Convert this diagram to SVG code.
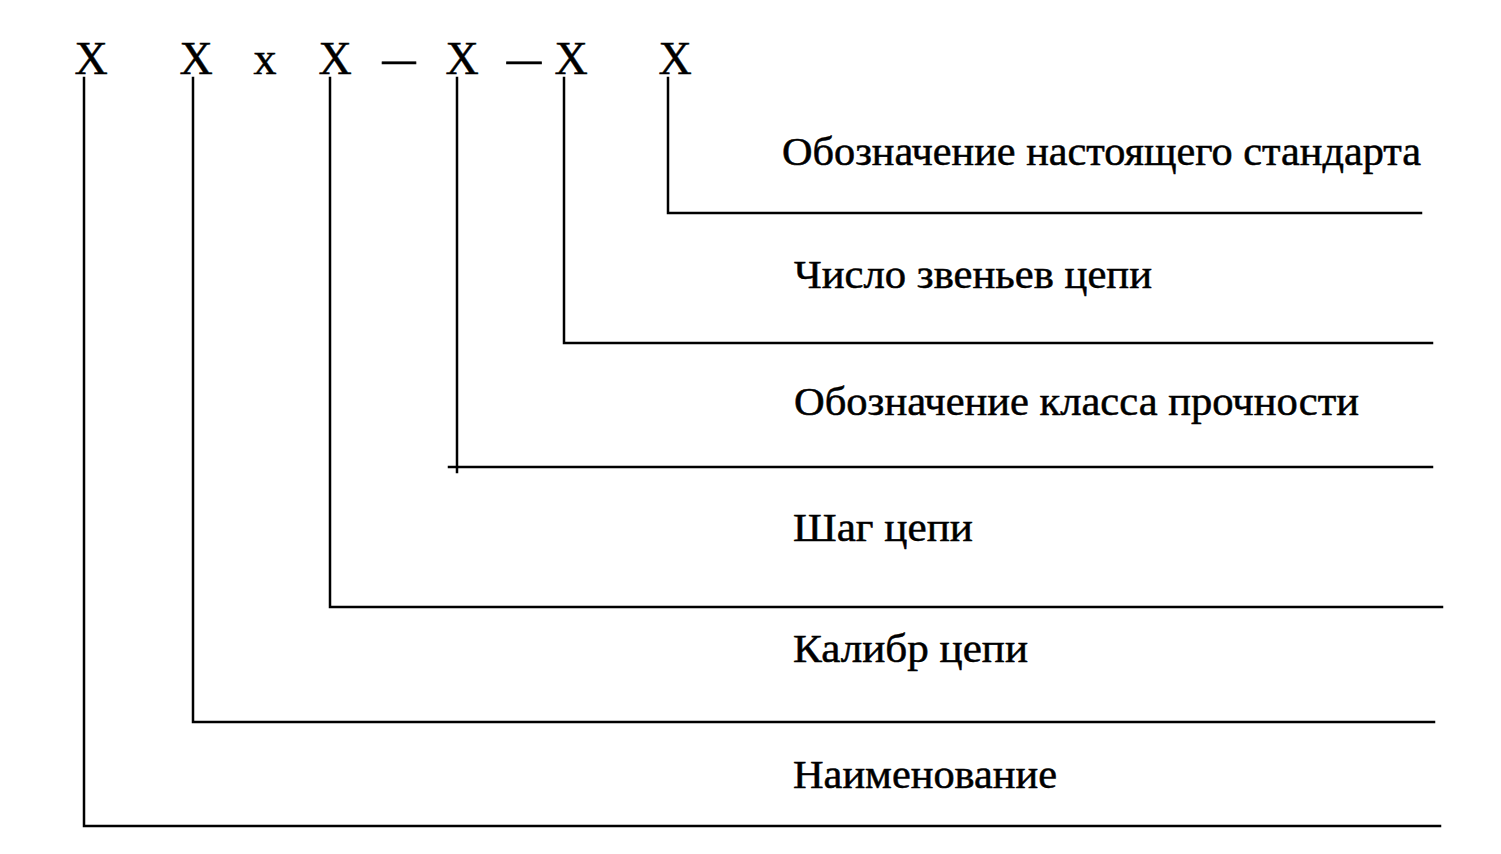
<svg xmlns="http://www.w3.org/2000/svg" width="1501" height="854" viewBox="0 0 1501 854">
<style>
.t{font-family:"Liberation Serif","Times New Roman",serif;fill:#000;stroke:#000;stroke-width:0.5}
.top{font-size:46px;text-anchor:middle}
.lbl{font-size:39px}
.ln{stroke:#000;stroke-width:2.5;fill:none;stroke-linecap:square}
</style>
<rect width="1501" height="854" fill="#fff"/>
<g id="code">
<text class="t top" x="91" y="74">X</text>
<text class="t top" x="196" y="74">X</text>
<text class="t top" x="265" y="74">x</text>
<text class="t top" x="335" y="74">X</text>
<text class="t top" x="399" y="74" textLength="33" lengthAdjust="spacingAndGlyphs">–</text>
<text class="t top" x="462" y="74">X</text>
<text class="t top" x="524" y="74" textLength="34" lengthAdjust="spacingAndGlyphs">–</text>
<text class="t top" x="571" y="74">X</text>
<text class="t top" x="675" y="74">X</text>
</g>
<g id="labels">
<text id="n6" class="t lbl" x="782" y="165" textLength="639" lengthAdjust="spacingAndGlyphs">Обозначение настоящего стандарта</text>
<text id="n5" class="t lbl" x="794" y="288" textLength="358" lengthAdjust="spacingAndGlyphs">Число звеньев цепи</text>
<text id="n4" class="t lbl" x="794" y="415" textLength="565" lengthAdjust="spacingAndGlyphs">Обозначение класса прочности</text>
<text id="n3" class="t lbl" x="793" y="541" textLength="180" lengthAdjust="spacingAndGlyphs">Шаг цепи</text>
<text id="n2" class="t lbl" x="793" y="662" textLength="235" lengthAdjust="spacingAndGlyphs">Калибр цепи</text>
<text id="n1" class="t lbl" x="793" y="788" textLength="264" lengthAdjust="spacingAndGlyphs">Наименование</text>
</g>
<g id="connectors">
<path class="ln" d="M84 78 V826 H1440"/>
<path class="ln" d="M193 78 V722 H1434"/>
<path class="ln" d="M330 78 V607 H1442"/>
<path class="ln" d="M457 78 V472 M449 467 H1432"/>
<path class="ln" d="M564 78 V343 H1432"/>
<path class="ln" d="M668 78 V213 H1421"/>
</g>
</svg>
